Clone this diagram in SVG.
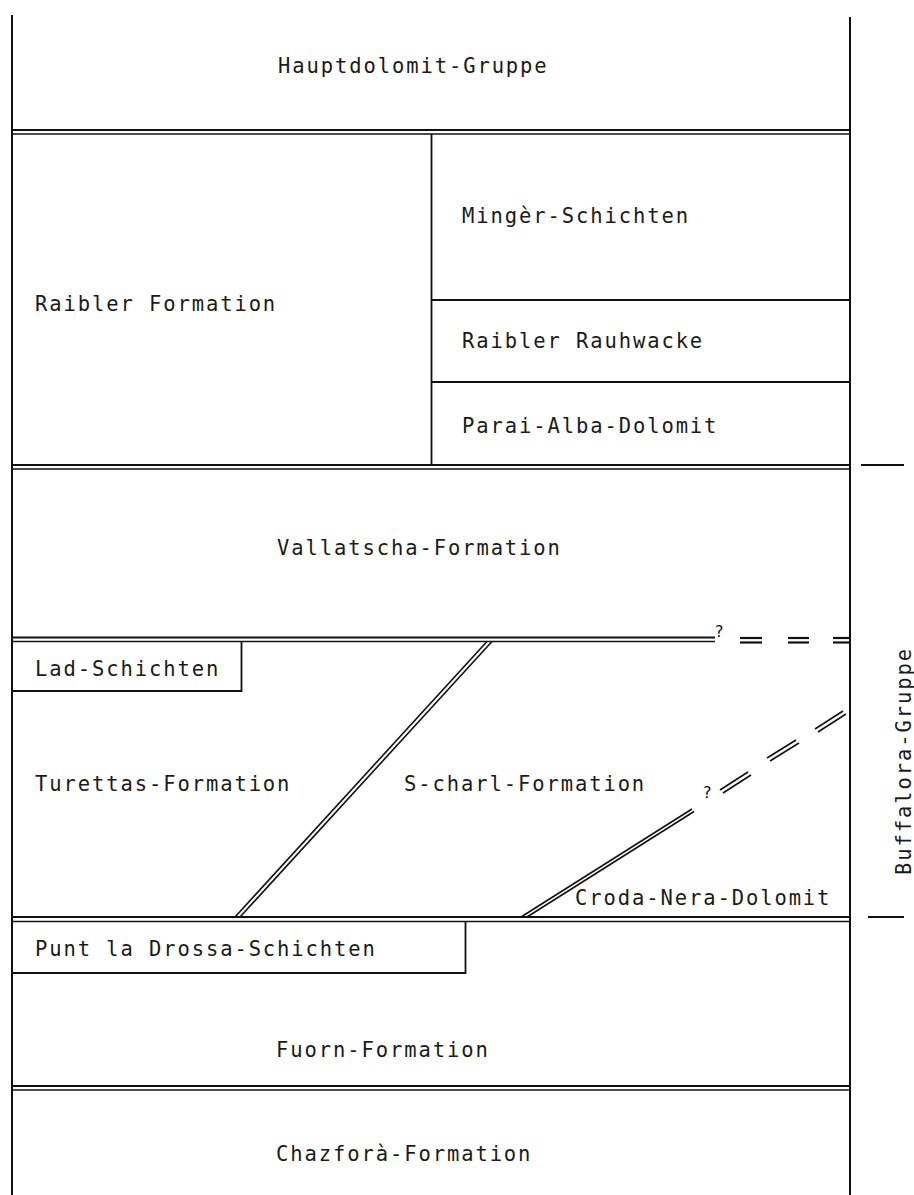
<svg xmlns="http://www.w3.org/2000/svg" width="914" height="1195" viewBox="0 0 914 1195">
<style>
  .t { font-family: "DejaVu Sans Mono", "Liberation Mono", monospace; font-size: 20.5px; letter-spacing: 1.9px; fill: #1a1a1a; }
  .q { font-family: "DejaVu Sans", "Liberation Sans", sans-serif; font-size: 16px; fill: #111; }
  .ln { stroke: #111; stroke-width: 1.8; fill: none; }
  .bd { stroke: #111; stroke-width: 2; fill: none; }
  .d1 { stroke: #111; stroke-width: 2.2; fill: none; }
  .d2 { stroke: #111; stroke-width: 1.6; fill: none; }
  .tk { stroke: #111; stroke-width: 1.8; }
</style>
<rect width="914" height="1195" fill="#ffffff"/>

<g id="connectors">
  <g id="dl1"><line class="d1" x1="12" y1="130" x2="850" y2="130"/><line class="d2" x1="12" y1="134" x2="850" y2="134"/></g>
  <g id="dl2"><line class="d1" x1="12" y1="465" x2="850" y2="465"/><line class="d2" x1="12" y1="469" x2="850" y2="469"/></g>
  <g id="dl3">
    <line class="d1" x1="12" y1="637.5" x2="715" y2="637.5"/><line class="d2" x1="12" y1="641.5" x2="715" y2="641.5"/>
    <line class="d1" x1="740" y1="638" x2="762" y2="638"/><line class="d1" x1="740" y1="642.5" x2="762" y2="642.5"/>
    <line class="d1" x1="788" y1="638" x2="809" y2="638"/><line class="d1" x1="788" y1="642.5" x2="809" y2="642.5"/>
    <line class="d1" x1="833" y1="638" x2="850" y2="638"/><line class="d1" x1="833" y1="642.5" x2="850" y2="642.5"/>
    <text class="q" x="715" y="637">?</text>
  </g>
  <g id="dl4"><line class="d1" x1="12" y1="917" x2="850" y2="917"/><line class="d2" x1="12" y1="921.5" x2="850" y2="921.5"/></g>
  <g id="dl5"><line class="d1" x1="12" y1="1086" x2="850" y2="1086"/><line class="d2" x1="12" y1="1090" x2="850" y2="1090"/></g>

  <line class="ln" x1="431.5" y1="134" x2="431.5" y2="465"/>
  <line class="ln" x1="431.5" y1="300" x2="850" y2="300"/>
  <line class="ln" x1="431.5" y1="382" x2="850" y2="382"/>
  <polyline class="ln" points="12,691 241.5,691 241.5,641.5"/>
  <polyline class="ln" points="12,973 465.5,973 465.5,921.5"/>

  <g id="diag1">
    <line class="d2" x1="487" y1="641.5" x2="235" y2="917"/>
    <line class="d2" x1="492" y1="641.5" x2="240" y2="917"/>
  </g>

  <g id="diag2">
    <line class="d2" x1="521" y1="917" x2="692" y2="809"/>
    <line class="d2" x1="527" y1="917" x2="694" y2="811.5"/>
    <line class="d2" x1="720" y1="790" x2="748" y2="772"/>
    <line class="d2" x1="723" y1="793" x2="751" y2="775"/>
    <line class="d2" x1="767" y1="758" x2="796" y2="740"/>
    <line class="d2" x1="770" y1="761" x2="799" y2="743"/>
    <line class="d2" x1="815" y1="729" x2="843" y2="711"/>
    <line class="d2" x1="818" y1="732" x2="846" y2="714"/>
    <text class="q" x="703" y="798">?</text>
  </g>

  <line class="bd" x1="12" y1="15" x2="12" y2="1195"/>
  <line class="bd" x1="850" y1="17" x2="850" y2="1195"/>

  <line class="tk" x1="861" y1="465" x2="904" y2="465"/>
  <line class="tk" x1="868" y1="917" x2="904" y2="917"/>
</g>

<g id="hauptdolomit"><text class="t" x="278" y="73">Hauptdolomit-Gruppe</text></g>
<g id="raibler"><text class="t" x="35" y="311">Raibler Formation</text></g>
<g id="minger"><text class="t" x="462" y="223">Mingèr-Schichten</text></g>
<g id="rauhwacke"><text class="t" x="462" y="348">Raibler Rauhwacke</text></g>
<g id="paraialba"><text class="t" x="462" y="433">Parai-Alba-Dolomit</text></g>
<g id="vallatscha"><text class="t" x="277" y="555">Vallatscha-Formation</text></g>
<g id="lad"><text class="t" x="35" y="676">Lad-Schichten</text></g>
<g id="turettas"><text class="t" x="35" y="791">Turettas-Formation</text></g>
<g id="scharl"><text class="t" x="404" y="791">S-charl-Formation</text></g>
<g id="crodanera"><text class="t" x="575" y="905">Croda-Nera-Dolomit</text></g>
<g id="puntladrossa"><text class="t" x="35" y="956">Punt la Drossa-Schichten</text></g>
<g id="fuorn"><text class="t" x="276" y="1057">Fuorn-Formation</text></g>
<g id="chazfora"><text class="t" x="276" y="1161">Chazforà-Formation</text></g>
<g id="buffalora"><text class="t" transform="translate(911,875) rotate(-90)" x="0" y="0">Buffalora-Gruppe</text></g>
</svg>
